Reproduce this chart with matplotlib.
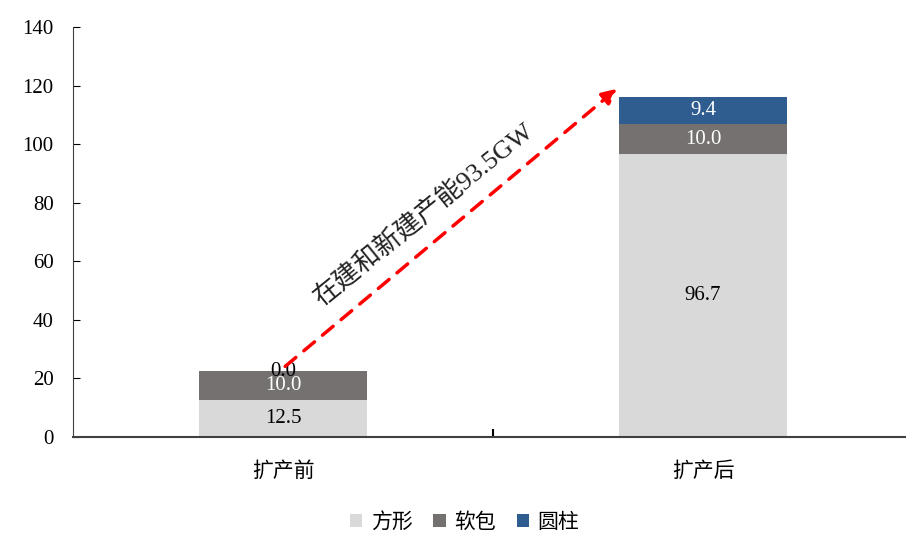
import matplotlib
matplotlib.use("Agg")
import matplotlib.pyplot as plt
import numpy as np

plt.rcParams['font.family'] = ['Liberation Serif', 'Noto Sans CJK SC']

# data
categories = ['扩产前', '扩产后']
series_names = ['方形', '软包', '圆柱']
square = [12.5, 96.7]
pouch = [10.0, 10.0]
cylinder = [0.0, 9.4]
arrow_label = '在建和新建产能93.5GW'

colors = ['#d9d9d9', '#767171', '#2f5d8f']
label_colors = ['black', 'white', 'white']

fig = plt.figure(figsize=(9.06, 5.36), dpi=100)
ax = fig.add_axes([0.0806, 0.1847, 0.9194, 0.765])

x = np.arange(len(categories))
bottom = np.zeros(len(categories))
for name, vals, c, lc in zip(series_names, [square, pouch, cylinder], colors, label_colors):
    vals = np.array(vals)
    ax.bar(x, vals, 0.4, bottom=bottom, color=c, label=name)
    for xi, b, v in zip(x, bottom, vals):
        # zero segment label sits on top of the bar in black
        tc = 'black' if v == 0 else lc
        ax.text(xi, b + v / 2, f'{v:.1f}', ha='center', va='center',
                color=tc, fontsize=15)
    bottom += vals

ax.set_xlim(-0.5, 1.483)
ax.set_ylim(0, 140)
ax.set_yticks(range(0, 141, 20))
ax.tick_params(axis='y', direction='in', length=5, labelsize=15, pad=14)
ax.set_xticks([0.5])
ax.set_xticklabels([''])
ax.tick_params(axis='x', direction='in', length=6, width=1.5)
for xi, cat in zip(x, categories):
    ax.text(xi, -8.5, cat, ha='center', va='top', fontsize=15,
            transform=ax.transData)

for s in ['top', 'right']:
    ax.spines[s].set_visible(False)
ax.spines['left'].set_color('#404040')
ax.spines['bottom'].set_color('#404040')
ax.spines['bottom'].set_linewidth(1.5)

# growth arrow
ax.annotate('', xy=(0.80, 119.5), xytext=(0.0, 23.5),
            arrowprops=dict(arrowstyle='-|>', color='red', lw=2.5,
                            linestyle=(0, (4, 3)), mutation_scale=22))
ax.text(0.335, 76, arrow_label, rotation=39, ha='center', va='center',
        fontsize=19, color='#222222')

ax.legend(loc='upper center', bbox_to_anchor=(0.47, -0.14), ncol=3,
          frameon=False, fontsize=15, handlelength=0.6, handleheight=0.6,
          handletextpad=0.4, columnspacing=1.0)

fig.savefig('out.png', dpi=100)
